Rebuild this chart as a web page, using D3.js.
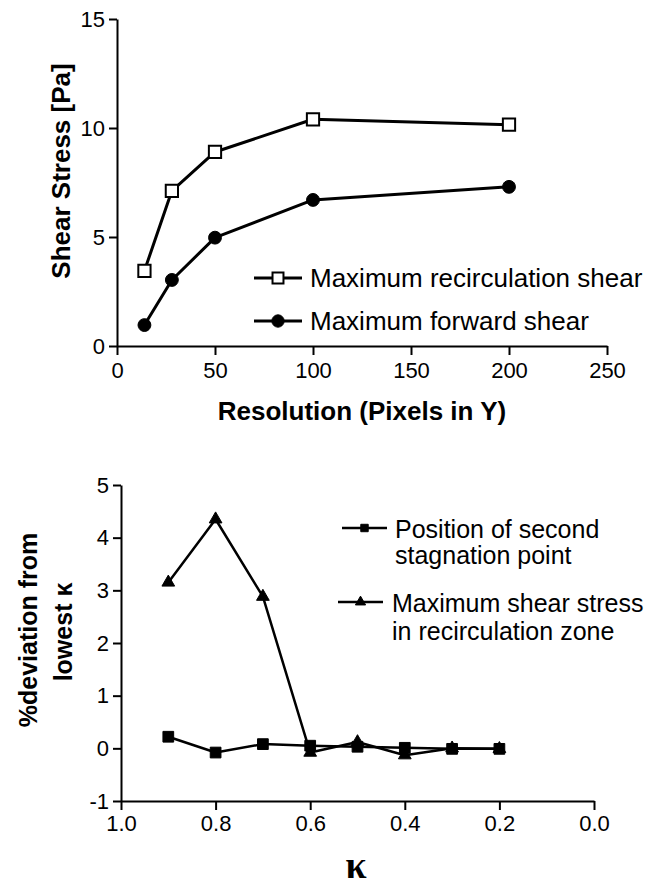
<!DOCTYPE html>
<html>
<head>
<meta charset="utf-8">
<script src="https://cdn.jsdelivr.net/npm/d3@7"></script>
<style>
  body { margin: 0; background: #fff; }
  svg { display: block; font-family: "Liberation Sans", Arial, Helvetica, sans-serif; }
  .axis path, .axis line { stroke: #000; stroke-width: 2px; }
  .axis text { font-size: 22px; fill: #000; }
</style>
</head>
<body>
<svg id="chart" width="660" height="888"></svg>
<script>
// top panel: grid resolution study
const resolution = [14, 28, 50, 100, 200];
const recircShear = [3.45, 7.12, 8.9, 10.4, 10.15];
const forwardShear = [0.96, 3.03, 4.97, 6.7, 7.3];
const resTicks = [0, 50, 100, 150, 200, 250];
const shearTicks = [0, 5, 10, 15];

// bottom panel: kappa study
const kappa = [0.9, 0.8, 0.7, 0.6, 0.5, 0.4, 0.3, 0.2];
const stagnationDev = [0.22, -0.08, 0.08, 0.05, 0.03, 0.01, -0.01, -0.01];
const recircShearDev = [3.15, 4.35, 2.88, -0.08, 0.12, -0.13, 0.0, -0.01];
const kappaTicks = [1.0, 0.8, 0.6, 0.4, 0.2, 0.0];
const devTicks = [-1, 0, 1, 2, 3, 4, 5];

const svg = d3.select('#chart');

function drawSeries(g, xs, ys, x, y, width) {
    const line = d3.line().x((d, i) => x(xs[i])).y(d => y(d));
    g.append('path')
        .datum(ys)
        .attr('d', line)
        .attr('fill', 'none')
        .attr('stroke', '#000')
        .attr('stroke-width', width)
        .attr('stroke-linejoin', 'round');
}

function drawMarkers(g, xs, ys, x, y, type, size, fill, strokeWidth) {
    g.selectAll(null)
        .data(ys)
        .enter()
        .append('path')
        .attr('transform', (d, i) => `translate(${x(xs[i])},${y(d)})`)
        .attr('d', d3.symbol().type(type).size(size))
        .attr('fill', fill)
        .attr('stroke', '#000')
        .attr('stroke-width', strokeWidth);
}

function legendItem(g, x1, x2, yLine, type, size, fill, strokeWidth, lineWidth, textX, lines, baselines, fontSize) {
    g.append('line')
        .attr('x1', x1).attr('x2', x2)
        .attr('y1', yLine).attr('y2', yLine)
        .attr('stroke', '#000')
        .attr('stroke-width', lineWidth);
    g.append('path')
        .attr('transform', `translate(${(x1 + x2) / 2},${yLine})`)
        .attr('d', d3.symbol().type(type).size(size))
        .attr('fill', fill)
        .attr('stroke', '#000')
        .attr('stroke-width', strokeWidth);
    lines.forEach((t, i) => {
        g.append('text')
            .attr('x', textX)
            .attr('y', baselines[i])
            .attr('font-size', fontSize)
            .text(t);
    });
}

// ---------- top panel ----------
{
    const x = d3.scaleLinear().domain([0, 250]).range([117, 607]);
    const y = d3.scaleLinear().domain([0, 15]).range([346, 19]);
    const g = svg.append('g');

    g.append('g')
        .attr('class', 'axis')
        .attr('transform', `translate(0,${y(0)})`)
        .call(d3.axisBottom(x).tickValues(resTicks).tickSize(9).tickSizeOuter(0).tickPadding(7));

    g.append('g')
        .attr('class', 'axis')
        .attr('transform', `translate(${x(0)},0)`)
        .call(d3.axisLeft(y).tickValues(shearTicks).tickSize(8).tickSizeOuter(0).tickPadding(4));

    svg.selectAll('.axis').attr('font-family', null);

    drawSeries(g, resolution, recircShear, x, y, 3);
    drawSeries(g, resolution, forwardShear, x, y, 3);
    drawMarkers(g, resolution, recircShear, x, y, d3.symbolSquare, 150, '#fff', 2);
    drawMarkers(g, resolution, forwardShear, x, y, d3.symbolCircle, 130, '#000', 1);

    legendItem(g, 254, 302, 278, d3.symbolSquare, 120, '#fff', 2, 3, 310,
        ['Maximum recirculation shear'], [287], 26);
    legendItem(g, 254, 302, 321, d3.symbolCircle, 120, '#000', 1, 3, 310,
        ['Maximum forward shear'], [330], 26);

    g.append('text')
        .attr('transform', 'translate(70,171) rotate(-90)')
        .attr('text-anchor', 'middle')
        .attr('font-size', 26)
        .attr('font-weight', 'bold')
        .text('Shear Stress [Pa]');

    g.append('text')
        .attr('x', 362)
        .attr('y', 420)
        .attr('text-anchor', 'middle')
        .attr('font-size', 26)
        .attr('font-weight', 'bold')
        .text('Resolution (Pixels in Y)');
}

// ---------- bottom panel ----------
{
    const x = d3.scaleLinear().domain([1.0, 0.0]).range([121, 594]);
    const y = d3.scaleLinear().domain([-1, 5]).range([801, 485]);
    const g = svg.append('g');

    g.append('g')
        .attr('class', 'axis')
        .attr('transform', `translate(0,${y(-1)})`)
        .call(d3.axisBottom(x).tickValues(kappaTicks).tickFormat(d3.format('.1f')).tickSize(9).tickSizeOuter(0).tickPadding(5));

    g.append('g')
        .attr('class', 'axis')
        .attr('transform', `translate(${x(1.0)},0)`)
        .call(d3.axisLeft(y).tickValues(devTicks).tickFormat(d => String(d)).tickSize(8).tickSizeOuter(0).tickPadding(4));

    svg.selectAll('.axis').attr('font-family', null);

    drawSeries(g, kappa, recircShearDev, x, y, 2.5);
    drawSeries(g, kappa, stagnationDev, x, y, 2.5);
    drawMarkers(g, kappa, recircShearDev, x, y, d3.symbolTriangle, 70, '#000', 1);
    drawMarkers(g, kappa, stagnationDev, x, y, d3.symbolSquare, 115, '#000', 1);

    legendItem(g, 342, 387, 528, d3.symbolSquare, 55, '#000', 1, 2.5, 395,
        ['Position of second', 'stagnation point'], [538, 564], 25);
    legendItem(g, 338, 383, 602, d3.symbolTriangle, 45, '#000', 1, 2.5, 392,
        ['Maximum shear stress', 'in recirculation zone'], [612, 640], 25);

    g.append('text')
        .attr('transform', 'translate(37,630) rotate(-90)')
        .attr('text-anchor', 'middle')
        .attr('font-size', 25)
        .attr('font-weight', 'bold')
        .text('%deviation from');

    g.append('text')
        .attr('transform', 'translate(72,632) rotate(-90)')
        .attr('text-anchor', 'middle')
        .attr('font-size', 25)
        .attr('font-weight', 'bold')
        .text('lowest κ');

    g.append('text')
        .attr('x', 356)
        .attr('y', 878)
        .attr('text-anchor', 'middle')
        .attr('font-family', '"Liberation Serif", "DejaVu Serif", serif')
        .attr('font-weight', 'bold')
        .attr('font-size', 38)
        .text('κ');
}
</script>
</body>
</html>
